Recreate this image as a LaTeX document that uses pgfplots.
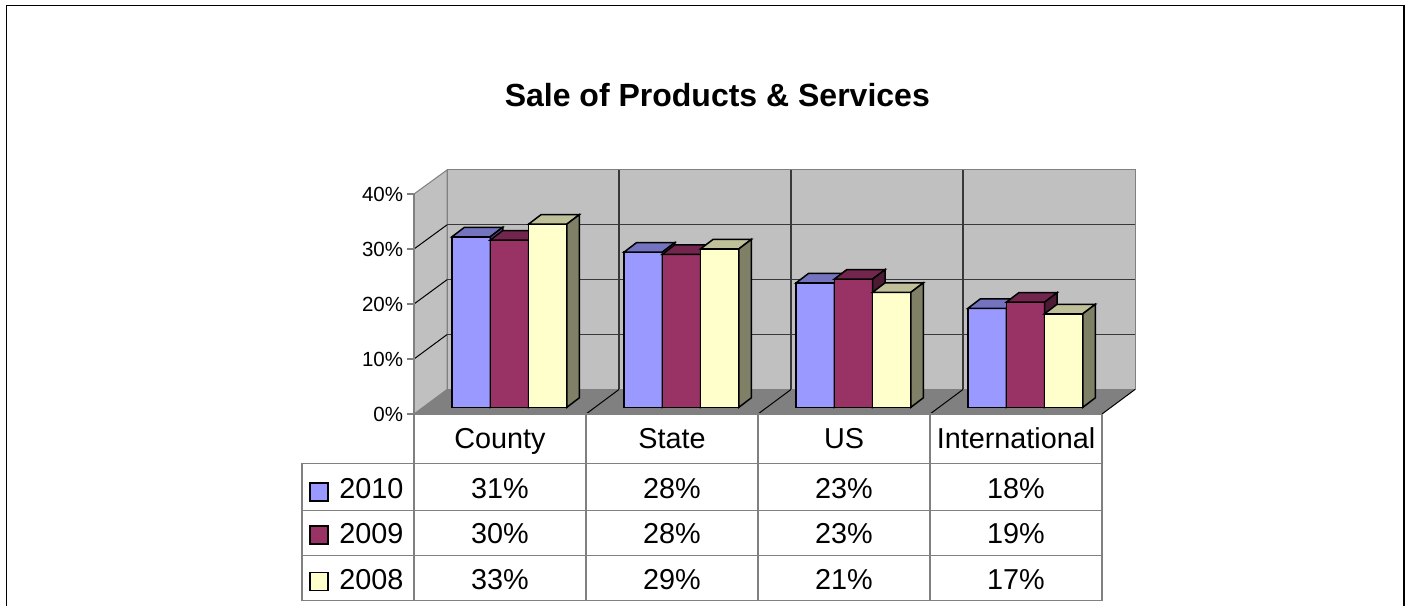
\documentclass[border=0pt]{standalone}
\usepackage{pgfplots}
\pgfplotsset{compat=1.18}
\usepackage{pgfplotstable}
\usepackage{fontspec}
\setmainfont{Liberation Sans}

\definecolor{wallc}{HTML}{C0C0C0}
\definecolor{floorc}{HTML}{808080}
\definecolor{edgec}{HTML}{808080}
\definecolor{gridc}{HTML}{383838}
\definecolor{tablec}{HTML}{808080}
\definecolor{cA}{HTML}{9999FF}
\definecolor{cAt}{HTML}{7373BF}
\definecolor{cAs}{HTML}{4D4D80}
\definecolor{cB}{HTML}{993366}
\definecolor{cBt}{HTML}{73264D}
\definecolor{cBs}{HTML}{4D1A33}
\definecolor{cC}{HTML}{FFFFCC}
\definecolor{cCt}{HTML}{BFBF99}
\definecolor{cCs}{HTML}{808066}

% data: x = category centre, v = value in percent
\pgfplotstableread{
x v
0.5 31.0
1.5 28.2
2.5 22.6
3.5 18.0
}\tA
\pgfplotstableread{
x v
0.5 30.4
1.5 27.8
2.5 23.3
3.5 19.1
}\tB
\pgfplotstableread{
x v
0.5 33.3
1.5 28.8
2.5 20.9
3.5 17.0
}\tC

% pixel coordinate system (reference image pixels, y downward)
\makeatletter
\def\pxparse#1,#2\pxend{%
  \pgfmathparse{(#1-423.4)/172}\let\pxX\pgfmathresult
  \pgfmathparse{(407.3-(#2))/5.5}\let\pxY\pgfmathresult
  \pgfplotspointaxisxy{\pxX}{\pxY}}
\tikzdeclarecoordinatesystem{px}{\pxparse#1\pxend}
\makeatother

% 3D box of a bar: front, top and side faces (drawn at the bar top)
\newcommand\declbox[5]{%
\pgfdeclareplotmark{#1}{%
  \pgfmathsetmacro\bL{#2-9.575}%
  \pgfmathsetmacro\bR{#2+9.575}%
  \pgfmathsetmacro\bH{\barv*2.75}%
  \pgfsetlinewidth{0.75pt}\pgfsetmiterjoin
  \pgfsetstrokecolor{black}%
  \pgfsetfillcolor{#3}%
  \pgfpathrectanglecorners{\pgfpoint{\bL pt}{0pt}}{\pgfpoint{\bR pt}{-\bH pt}}%
  \pgfusepath{fill,stroke}%
  \pgfsetfillcolor{#4}%
  \pgfpathmoveto{\pgfpoint{\bL pt}{0pt}}%
  \pgfpathlineto{\pgfpoint{\bL pt+6.25pt}{4.75pt}}%
  \pgfpathlineto{\pgfpoint{\bR pt+6.25pt}{4.75pt}}%
  \pgfpathlineto{\pgfpoint{\bR pt}{0pt}}%
  \pgfpathclose
  \pgfusepath{fill,stroke}%
  \pgfsetfillcolor{#5}%
  \pgfpathmoveto{\pgfpoint{\bR pt}{0pt}}%
  \pgfpathlineto{\pgfpoint{\bR pt+6.25pt}{4.75pt}}%
  \pgfpathlineto{\pgfpoint{\bR pt+6.25pt}{4.75pt-\bH pt}}%
  \pgfpathlineto{\pgfpoint{\bR pt}{-\bH pt}}%
  \pgfpathclose
  \pgfusepath{fill,stroke}%
}}
\declbox{boxA}{-19.15}{cA}{cAt}{cAs}
\declbox{boxB}{0}{cB}{cBt}{cBs}
\declbox{boxC}{19.15}{cC}{cCt}{cCs}

\begin{document}
\begin{tikzpicture}
\begin{axis}[
  scale only axis, width=704pt, height=302.5pt,
  xmin=-2.461628, xmax=5.724419, ymin=-35.94545, ymax=74.05455,
  hide axis, clip=false,
]
% background and frame
\fill[white] (px cs:0,0) rectangle (px cs:1408,605);
\draw[black, line width=0.6pt] (px cs:6.5,606) -- (px cs:6.5,5.5) -- (px cs:1404,5.5) -- (px cs:1404,606);
% walls and floor
\filldraw[fill=wallc, draw=edgec, line width=0.5pt] (px cs:414,414) -- (px cs:414,194) -- (px cs:447,170) -- (px cs:447,389.5) -- cycle;
\filldraw[fill=wallc, draw=edgec, line width=0.5pt] (px cs:447,170) rectangle (px cs:1135,389.5);
\fill[floorc] (px cs:414,414) -- (px cs:447,389.5) -- (px cs:1135,389.5) -- (px cs:1102,414) -- cycle;
\draw[black, line width=0.5pt] (px cs:1102,414) -- (px cs:1135,389.5);
% gridlines
\pgfplotsinvokeforeach{10,20,30}{
  \draw[gridc, line width=0.6pt] (px cs:447,{389.5-5.4875*#1}) -- (px cs:1135,{389.5-5.4875*#1});
  \draw[black, line width=0.5pt] (px cs:414,{414-5.5*#1}) -- (px cs:447,{389.5-5.4875*#1});
}
\pgfplotsinvokeforeach{619,791,963}{
  \draw[gridc, line width=0.6pt] (px cs:#1,170) -- (px cs:#1,389.5);
  \draw[black, line width=0.5pt] (px cs:#1,389.5) -- (px cs:{#1-33},414);
}
% value axis
\draw[edgec, line width=0.6pt] (px cs:414,194) -- (px cs:414,414);
\pgfplotsinvokeforeach{0,10,20,30,40}{
  \draw[edgec, line width=0.6pt] (px cs:407,{414-5.5*#1}) -- (px cs:414,{414-5.5*#1});
  \node[anchor=east, inner sep=0pt, font=\fontsize{10.25}{12}\selectfont] at (px cs:403.5,{414.5-5.5*#1}) {#1\%};
}
% data table grid
\draw[tablec, line width=0.6pt] (px cs:414,414) -- (px cs:1102,414);
\pgfplotsinvokeforeach{463.3,510.3,555.7,600.7}{
  \draw[tablec, line width=0.6pt] (px cs:302,#1) -- (px cs:1102,#1);
}
\pgfplotsinvokeforeach{414,586,758,930,1102}{
  \draw[tablec, line width=0.6pt] (px cs:#1,414) -- (px cs:#1,600.7);
}
\draw[tablec, line width=0.6pt] (px cs:302,463.3) -- (px cs:302,600.7);
% title
\node[anchor=base, font=\bfseries\fontsize{16}{19}\selectfont] at (px cs:717.3,106.5) {Sale of Products \& Services};
% table header
\node[anchor=base, font=\fontsize{14.4}{17}\selectfont] at (px cs:500,448.3) {County};
\node[anchor=base, font=\fontsize{14.4}{17}\selectfont] at (px cs:672,448.3) {State};
\node[anchor=base, font=\fontsize{14.4}{17}\selectfont] at (px cs:844,448.3) {US};
\node[anchor=base, font=\fontsize{14.4}{17}\selectfont] at (px cs:1016,448.3) {International};
% legend keys and row labels
\filldraw[fill=cA, draw=black, line width=0.75pt] (px cs:310,483) rectangle (px cs:328,501);
\filldraw[fill=cB, draw=black, line width=0.75pt] (px cs:310,526) rectangle (px cs:328,544);
\filldraw[fill=cC, draw=black, line width=0.75pt] (px cs:310,572.5) rectangle (px cs:328,590.5);
\node[anchor=base west, inner sep=0pt, font=\fontsize{14.4}{17}\selectfont] at (px cs:339,499) {2010};
\node[anchor=base west, inner sep=0pt, font=\fontsize{14.4}{17}\selectfont] at (px cs:339,544) {2009};
\node[anchor=base west, inner sep=0pt, font=\fontsize{14.4}{17}\selectfont] at (px cs:339,590) {2008};
% table cells
\node[anchor=base, font=\fontsize{14.4}{17}\selectfont] at (px cs:500,499) {31\%};
\node[anchor=base, font=\fontsize{14.4}{17}\selectfont] at (px cs:672,499) {28\%};
\node[anchor=base, font=\fontsize{14.4}{17}\selectfont] at (px cs:844,499) {23\%};
\node[anchor=base, font=\fontsize{14.4}{17}\selectfont] at (px cs:1016,499) {18\%};
\node[anchor=base, font=\fontsize{14.4}{17}\selectfont] at (px cs:500,544) {30\%};
\node[anchor=base, font=\fontsize{14.4}{17}\selectfont] at (px cs:672,544) {28\%};
\node[anchor=base, font=\fontsize{14.4}{17}\selectfont] at (px cs:844,544) {23\%};
\node[anchor=base, font=\fontsize{14.4}{17}\selectfont] at (px cs:1016,544) {19\%};
\node[anchor=base, font=\fontsize{14.4}{17}\selectfont] at (px cs:500,590) {33\%};
\node[anchor=base, font=\fontsize{14.4}{17}\selectfont] at (px cs:672,590) {29\%};
\node[anchor=base, font=\fontsize{14.4}{17}\selectfont] at (px cs:844,590) {21\%};
\node[anchor=base, font=\fontsize{14.4}{17}\selectfont] at (px cs:1016,590) {17\%};
% bars: front faces
\addplot[ybar, bar width=19.15pt, bar shift=-19.15pt, fill=cA, draw=black, line width=0.75pt] table[x=x, y=v] {\tA};
\addplot[ybar, bar width=19.15pt, bar shift=0pt, fill=cB, draw=black, line width=0.75pt] table[x=x, y=v] {\tB};
\addplot[ybar, bar width=19.15pt, bar shift=19.15pt, fill=cC, draw=black, line width=0.75pt] table[x=x, y=v] {\tC};
% bars: 3D boxes, drawn series by series (left to right)
\addplot[scatter, only marks, mark=boxA, visualization depends on={\thisrow{v} \as \barv}] table[x=x, y=v] {\tA};
\addplot[scatter, only marks, mark=boxB, visualization depends on={\thisrow{v} \as \barv}] table[x=x, y=v] {\tB};
\addplot[scatter, only marks, mark=boxC, visualization depends on={\thisrow{v} \as \barv}] table[x=x, y=v] {\tC};
\end{axis}
\end{tikzpicture}
\end{document}
